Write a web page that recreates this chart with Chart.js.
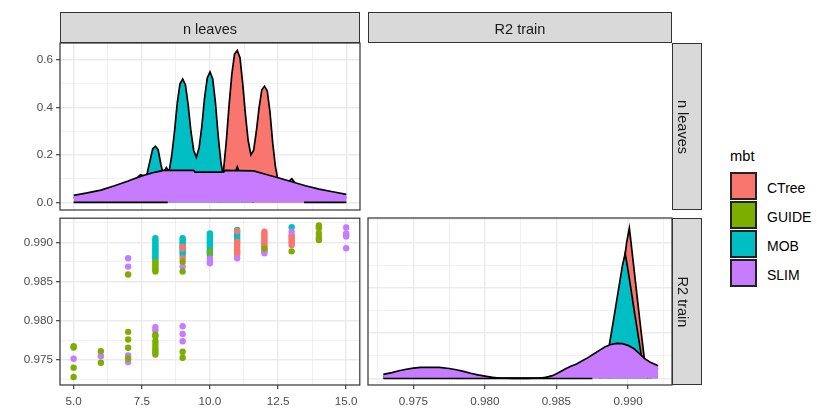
<!DOCTYPE html>
<html>
<head>
<meta charset="utf-8">
<script src="https://cdn.jsdelivr.net/npm/chart.js@4.4.1/dist/chart.umd.min.js"></script>
<style>
  html, body { margin: 0; padding: 0; background: #fff; }
  body { width: 817px; height: 413px; position: relative; overflow: hidden;
         font-family: "Liberation Sans", Arial, sans-serif; }
  canvas { position: absolute; }
  .strip { position: absolute; box-sizing: border-box; background: #D9D9D9;
           border: 1px solid #333; color: #1A1A1A; font-size: 14.5px; }
  .strip .h { position: absolute; left: 0; right: 0; top: 0; bottom: 0; text-align: center;
              line-height: 29px; transform: translateY(2px); white-space: nowrap; }
  .strip .v { position: absolute; left: 50%; top: 50%; width: 167px; height: 30px;
              margin-left: -83.5px; margin-top: -15px; line-height: 30px; text-align: center;
              transform: rotate(90deg) translateY(5px); white-space: nowrap; }
  .legend-title { position: absolute; left: 730px; top: 148px; font-size: 14.7px;
                  line-height: 17px; color: #000; }
  .key { position: absolute; left: 730px; width: 27px; height: 28px; box-sizing: border-box;
         border: 2px solid #222; }
  .key-label { position: absolute; left: 767px; height: 28px; line-height: 28px;
               font-size: 14px; color: #000; transform: translateY(2px); white-space: nowrap; }
</style>
</head>
<body>
<canvas id="densLeaves"></canvas>
<canvas id="scatterPanel"></canvas>
<canvas id="densR2"></canvas>
<div id="decor"></div>
<script>
// ---- groups ----
const groups = ['CTree', 'GUIDE', 'MOB', 'SLIM'];
const groupColors = ['#F8766D', '#7CAE00', '#00BFC4', '#C77CFF'];
const variables = ['n leaves', 'R2 train'];
const legendTitle = 'mbt';

// ---- axis breaks ----
const leavesMajor = [5, 7.5, 10, 12.5, 15];
const leavesMinor = [6.25, 8.75, 11.25, 13.75];
const leavesDensMajor = [0, 0.2, 0.4, 0.6];
const leavesDensMinor = [0.1, 0.3, 0.5];
const r2Major = [0.975, 0.98, 0.985, 0.99];
const r2Minor = [0.9725, 0.9775, 0.9825, 0.9875, 0.9925];
const r2DensMajor = [0, 50, 100, 150];
const r2DensMinor = [25, 75, 125, 175];

// ---- density of n leaves, per model ----
const densLeavesCTree = [[10.3,0],[10.4,0.05],[10.5,0.14],[10.6,0.26],[10.7,0.41],[10.8,0.54],[10.9,0.625],[11.0,0.64],
  [11.1,0.61],[11.2,0.5],[11.3,0.37],[11.4,0.26],[11.5,0.2],[11.6,0.22],[11.7,0.3],[11.8,0.4],[11.9,0.475],
  [12.0,0.49],[12.1,0.47],[12.2,0.38],[12.3,0.25],[12.4,0.15],[12.5,0.09],[12.7,0.05],[12.9,0.09],[13.0,0.1],
  [13.1,0.085],[13.3,0.03],[13.6,0]];
const densLeavesGUIDE = [[5,0.02],[6,0.035],[7,0.075],[7.3,0.1],[7.45,0.117],[7.6,0.11],[8.0,0.115],[8.3,0.128],
  [8.4,0.147],[8.5,0.128],[9,0.1],[10,0.09],[11,0.085],[12,0.08],[13,0.06],[14,0.045],[15,0.02]];
const densLeavesMOB = [[7.4,0.05],[7.6,0.09],[7.7,0.125],[7.8,0.175],[7.9,0.226],[8.0,0.237],[8.1,0.222],[8.2,0.16],
  [8.3,0.11],[8.4,0.1],[8.5,0.13],[8.6,0.2],[8.7,0.3],[8.8,0.42],[8.9,0.5],[9.0,0.52],[9.1,0.495],[9.2,0.41],
  [9.3,0.3],[9.4,0.22],[9.5,0.19],[9.6,0.23],[9.7,0.32],[9.8,0.44],[9.9,0.525],[10.0,0.55],[10.1,0.52],[10.2,0.42],
  [10.3,0.28],[10.4,0.17],[10.5,0.1],[10.7,0.06],[10.9,0.12],[11.0,0.15],[11.1,0.12],[11.3,0.04],[11.6,0]];
const densLeavesSLIM = [[5,0.03],[5.5,0.04],[6,0.052],[6.5,0.07],[7,0.09],[7.5,0.112],[8,0.128],[8.3,0.135],
  [9.4,0.135],[9.45,0.128],[10.5,0.128],[10.55,0.135],[11.6,0.133],[12,0.12],[12.5,0.104],[13,0.087],[13.5,0.07],
  [14,0.056],[14.5,0.045],[15,0.034]];
const baseLeavesLeft = [[5,0],[8.45,0]];
const baseLeavesRight = [[13.45,0],[15,0]];

// ---- n leaves vs R2 train, per model ----
const pointsCTree = [[9,0.98944],[9,0.98920],[9,0.98797],
  [11,0.99143],[11,0.99008],[11,0.98985],[11,0.98960],[11,0.98935],[11,0.98910],[11,0.98885],[11,0.98860],[11,0.98839],
  [12,0.99134],[12,0.99110],[12,0.99085],[12,0.99060],[12,0.99035],[12,0.99010],[12,0.98985],[12,0.98960],[12,0.98935],[12,0.98910],[12,0.98885],
  [13,0.99092],[13,0.99070],[13,0.99045],[13,0.99020],[13,0.98995],[13,0.98966],
  [14,0.99177],[14,0.99080]];
const pointsGUIDE = [[5,0.97677],[5,0.97660],[5,0.97404],[5,0.97285],
  [6,0.97614],[6,0.97467],
  [7,0.98590],[7,0.97860],[7,0.97762],[7,0.97657],[7,0.97520],
  [8,0.98750],[8,0.98725],[8,0.98700],[8,0.98675],[8,0.98650],[8,0.98628],
  [8,0.97826],[8,0.97800],[8,0.97741],[8,0.97700],[8,0.97657],[8,0.97630],[8,0.97601],[8,0.97572],
  [9,0.98754],[9,0.98628],[9,0.97606],[9,0.97530],
  [10,0.98881],[12,0.98920],[13,0.98885],
  [14,0.99215],[14,0.99195],[14,0.99114],[14,0.99050],[14,0.99029]];
const pointsMOB = [[8,0.99051],[8,0.99025],[8,0.99000],[8,0.98975],[8,0.98950],[8,0.98925],[8,0.98900],[8,0.98875],[8,0.98850],[8,0.98825],[8,0.98800],[8,0.98776],
  [9,0.99051],[9,0.99025],[9,0.99000],[9,0.98975],[9,0.98950],[9,0.98925],[9,0.98900],[9,0.98875],[9,0.98839],
  [10,0.99114],[10,0.99090],[10,0.99065],[10,0.99040],[10,0.99015],[10,0.98990],[10,0.98965],[10,0.98940],[10,0.98915],[10,0.98890],[10,0.98865],[10,0.98839],
  [11,0.99156],[11,0.99130],[11,0.99105],[11,0.99080],[11,0.99055],[11,0.99029],
  [13,0.99192]];
const pointsSLIM = [[5,0.97518],[6,0.97550],[7,0.98797],[7,0.98691],[7,0.97559],[7,0.97475],
  [8,0.97918],[8,0.97880],[9,0.98691],[9,0.97931],[9,0.97834],[9,0.97741],
  [10,0.98790],[10,0.98760],[10,0.98734],[11,0.98797],[12,0.98861],[13,0.99134],
  [15,0.99190],[15,0.99114],[15,0.99095],[15,0.99075],[15,0.98924]];

// ---- density of R2 train, per model ----
const densR2CTree = [[0.9886,0],[0.9890,30],[0.9894,80],[0.9897,125],[0.9899,150],[0.99009,166],[0.9902,151],
  [0.9904,123],[0.9906,95],[0.9908,67],[0.9910,40],[0.9912,14],[0.9914,3],[0.9916,0]];
const densR2GUIDE = [[0.9729,2],[0.9760,8],[0.9790,3],[0.9800,1.5],[0.9810,0.3],[0.9840,0.3],[0.9860,8],
  [0.9880,20],[0.9900,25],[0.9921,10]];
const densR2MOB = [[0.9880,0],[0.9884,12],[0.9887,38],[0.9890,66],[0.9893,95],[0.9896,124],[0.9898,138],
  [0.9900,119],[0.9902,99],[0.9904,78],[0.9906,58],[0.9908,38],[0.9910,18],[0.9912,6],[0.9914,0]];
const densR2SLIM = [[0.9729,4.6],[0.9735,6.5],[0.9740,8.5],[0.9745,10.2],[0.9750,11.5],[0.9755,12.2],[0.9762,12.4],
  [0.9768,12.2],[0.9775,11],[0.9780,9.6],[0.9785,7.8],[0.9790,5.8],[0.9795,4],[0.9800,2.6],[0.9805,1.2],[0.9810,0.5],
  [0.9820,0.2],[0.9830,0.2],[0.9838,0.5],[0.9843,1.3],[0.9848,3.5],[0.9852,7],[0.9856,10.5],[0.9860,13.5],
  [0.9864,16],[0.9868,19.5],[0.9872,23],[0.9876,27],[0.9880,31],[0.9884,35],[0.9888,37.5],[0.9892,38.8],
  [0.9896,38.5],[0.9900,36.5],[0.9904,33],[0.9908,27.5],[0.9912,21.5],[0.9916,17.5],[0.9921,14]];
const baseR2 = [[0.9729,0],[0.9875,0]];

// ---- axis limits ----
const leavesRange = [4.5, 15.5];
const leavesDensRange = [-0.032, 0.672];
const r2Range = [0.97183, 0.99307];
const r2DensRange = [-7.2, 177.1];

// ---------------------------------------------------------------
Chart.defaults.font.family = '"Liberation Sans", Arial, sans-serif';
Chart.defaults.font.size = 11.7;

const xy = arr => arr.map(p => ({ x: p[0], y: p[1] }));

function densitySet(arr, g, order) {
  return { label: groups[g], data: xy(arr), fill: 'origin', backgroundColor: groupColors[g],
           borderColor: '#000', borderWidth: 1.7, pointRadius: 0, tension: 0, order };
}
function baseSet(arr) {
  return { data: xy(arr), fill: false, borderColor: '#000', borderWidth: 1.7, pointRadius: 0, order: 0 };
}
function pointSet(arr, g, order) {
  return { label: groups[g], data: xy(arr), backgroundColor: groupColors[g], borderWidth: 0,
           pointRadius: 3.2, pointHoverRadius: 3.2, order };
}

// linear axis with ggplot-like major + minor grid
function axis(range, major, minor, digits, labelled, fixedSize, pad) {
  return {
    type: 'linear', min: range[0], max: range[1],
    afterBuildTicks(scale) {
      scale.ticks = major.map(v => ({ value: v, minor: false }))
        .concat(minor.map(v => ({ value: v, minor: true })))
        .filter(t => t.value >= range[0] && t.value <= range[1])
        .sort((a, b) => a.value - b.value);
    },
    afterFit(scale) {
      if (scale.isHorizontal()) scale.height = fixedSize; else scale.width = fixedSize;
      scale.paddingLeft = 0; scale.paddingRight = 0; scale.paddingTop = 0; scale.paddingBottom = 0;
    },
    ticks: {
      display: labelled, autoSkip: false, maxRotation: 0, minRotation: 0, color: '#4D4D4D', padding: pad,
      callback(value, i, ticks) { return ticks[i].minor ? '' : Number(value).toFixed(digits); }
    },
    grid: {
      color: '#EBEBEB',
      lineWidth: c => (c.tick && c.tick.minor) ? 0.7 : 1.4,
      drawTicks: labelled, tickLength: 4, tickWidth: 1.1,
      tickColor: c => (c.tick && c.tick.minor) ? 'rgba(0,0,0,0)' : '#333'
    },
    border: { display: false }
  };
}

const panelFrame = {
  id: 'panelFrame',
  afterDraw(chart) {
    const a = chart.chartArea, c = chart.ctx;
    c.save();
    c.strokeStyle = '#333';
    c.lineWidth = 1.2;
    c.strokeRect(a.left, a.top, a.right - a.left, a.bottom - a.top);
    c.restore();
  }
};

function build(id, box, type, datasets, xAxis, yAxis, padding) {
  const cv = document.getElementById(id);
  cv.width = box[2]; cv.height = box[3];
  cv.style.left = box[0] + 'px'; cv.style.top = box[1] + 'px';
  cv.style.width = box[2] + 'px'; cv.style.height = box[3] + 'px';
  return new Chart(cv, {
    type,
    data: { datasets },
    options: {
      responsive: false, animation: false, devicePixelRatio: 1,
      layout: { padding },
      plugins: { legend: { display: false }, tooltip: { enabled: false } },
      scales: { x: xAxis, y: yAxis }
    },
    plugins: [panelFrame]
  });
}

// density of n leaves (upper left)
build('densLeaves', [0, 40, 363, 173], 'line', [
    densitySet(densLeavesCTree, 0, 4), densitySet(densLeavesGUIDE, 1, 3),
    densitySet(densLeavesMOB, 2, 2), densitySet(densLeavesSLIM, 3, 1),
    baseSet(baseLeavesLeft), baseSet(baseLeavesRight)
  ],
  axis(leavesRange, leavesMajor, leavesMinor, 1, false, 0, 0),
  axis(leavesDensRange, leavesDensMajor, leavesDensMinor, 1, true, 60, 3),
  { top: 3, right: 3, bottom: 3, left: 0 });

// n leaves vs R2 train (lower left)
build('scatterPanel', [0, 215, 363, 198], 'scatter', [
    pointSet(pointsMOB, 2, 4), pointSet(pointsCTree, 0, 3),
    pointSet(pointsSLIM, 3, 2), pointSet(pointsGUIDE, 1, 1)
  ],
  axis(leavesRange, leavesMajor, leavesMinor, 1, true, 28, 6),
  axis(r2Range, r2Major, r2Minor, 3, true, 60, 3),
  { top: 3, right: 3, bottom: 0, left: 0 });

// density of R2 train (lower right)
build('densR2', [365, 215, 310, 198], 'line', [
    densitySet(densR2CTree, 0, 4), densitySet(densR2GUIDE, 1, 3),
    densitySet(densR2MOB, 2, 2), densitySet(densR2SLIM, 3, 1),
    baseSet(baseR2)
  ],
  axis(r2Range, r2Major, r2Minor, 3, true, 28, 6),
  axis(r2DensRange, r2DensMajor, r2DensMinor, 0, false, 0, 0),
  { top: 3, right: 3, bottom: 0, left: 3 });

// ---- facet strips and legend ----
const decor = document.getElementById('decor');
function addDiv(cls, css) {
  const d = document.createElement('div');
  d.className = cls; d.style.cssText = css;
  decor.appendChild(d); return d;
}
const topStrips = [[60, 300], [368, 304]];
topStrips.forEach((s, i) => {
  const d = addDiv('strip', `left:${s[0]}px;top:12px;width:${s[1]}px;height:31px;`);
  const t = document.createElement('div'); t.className = 'h'; t.textContent = variables[i]; d.appendChild(t);
});
const sideStrips = [43, 218];
sideStrips.forEach((y, i) => {
  const d = addDiv('strip', `left:672px;top:${y}px;width:30px;height:167px;`);
  const t = document.createElement('div'); t.className = 'v'; t.textContent = variables[i]; d.appendChild(t);
});
addDiv('legend-title', '').textContent = legendTitle;
groups.forEach((g, i) => {
  const top = 171.5 + i * 29;
  addDiv('key', `top:${top}px;background:${groupColors[i]};`);
  addDiv('key-label', `top:${top}px;`).textContent = g;
});
</script>
</body>
</html>
